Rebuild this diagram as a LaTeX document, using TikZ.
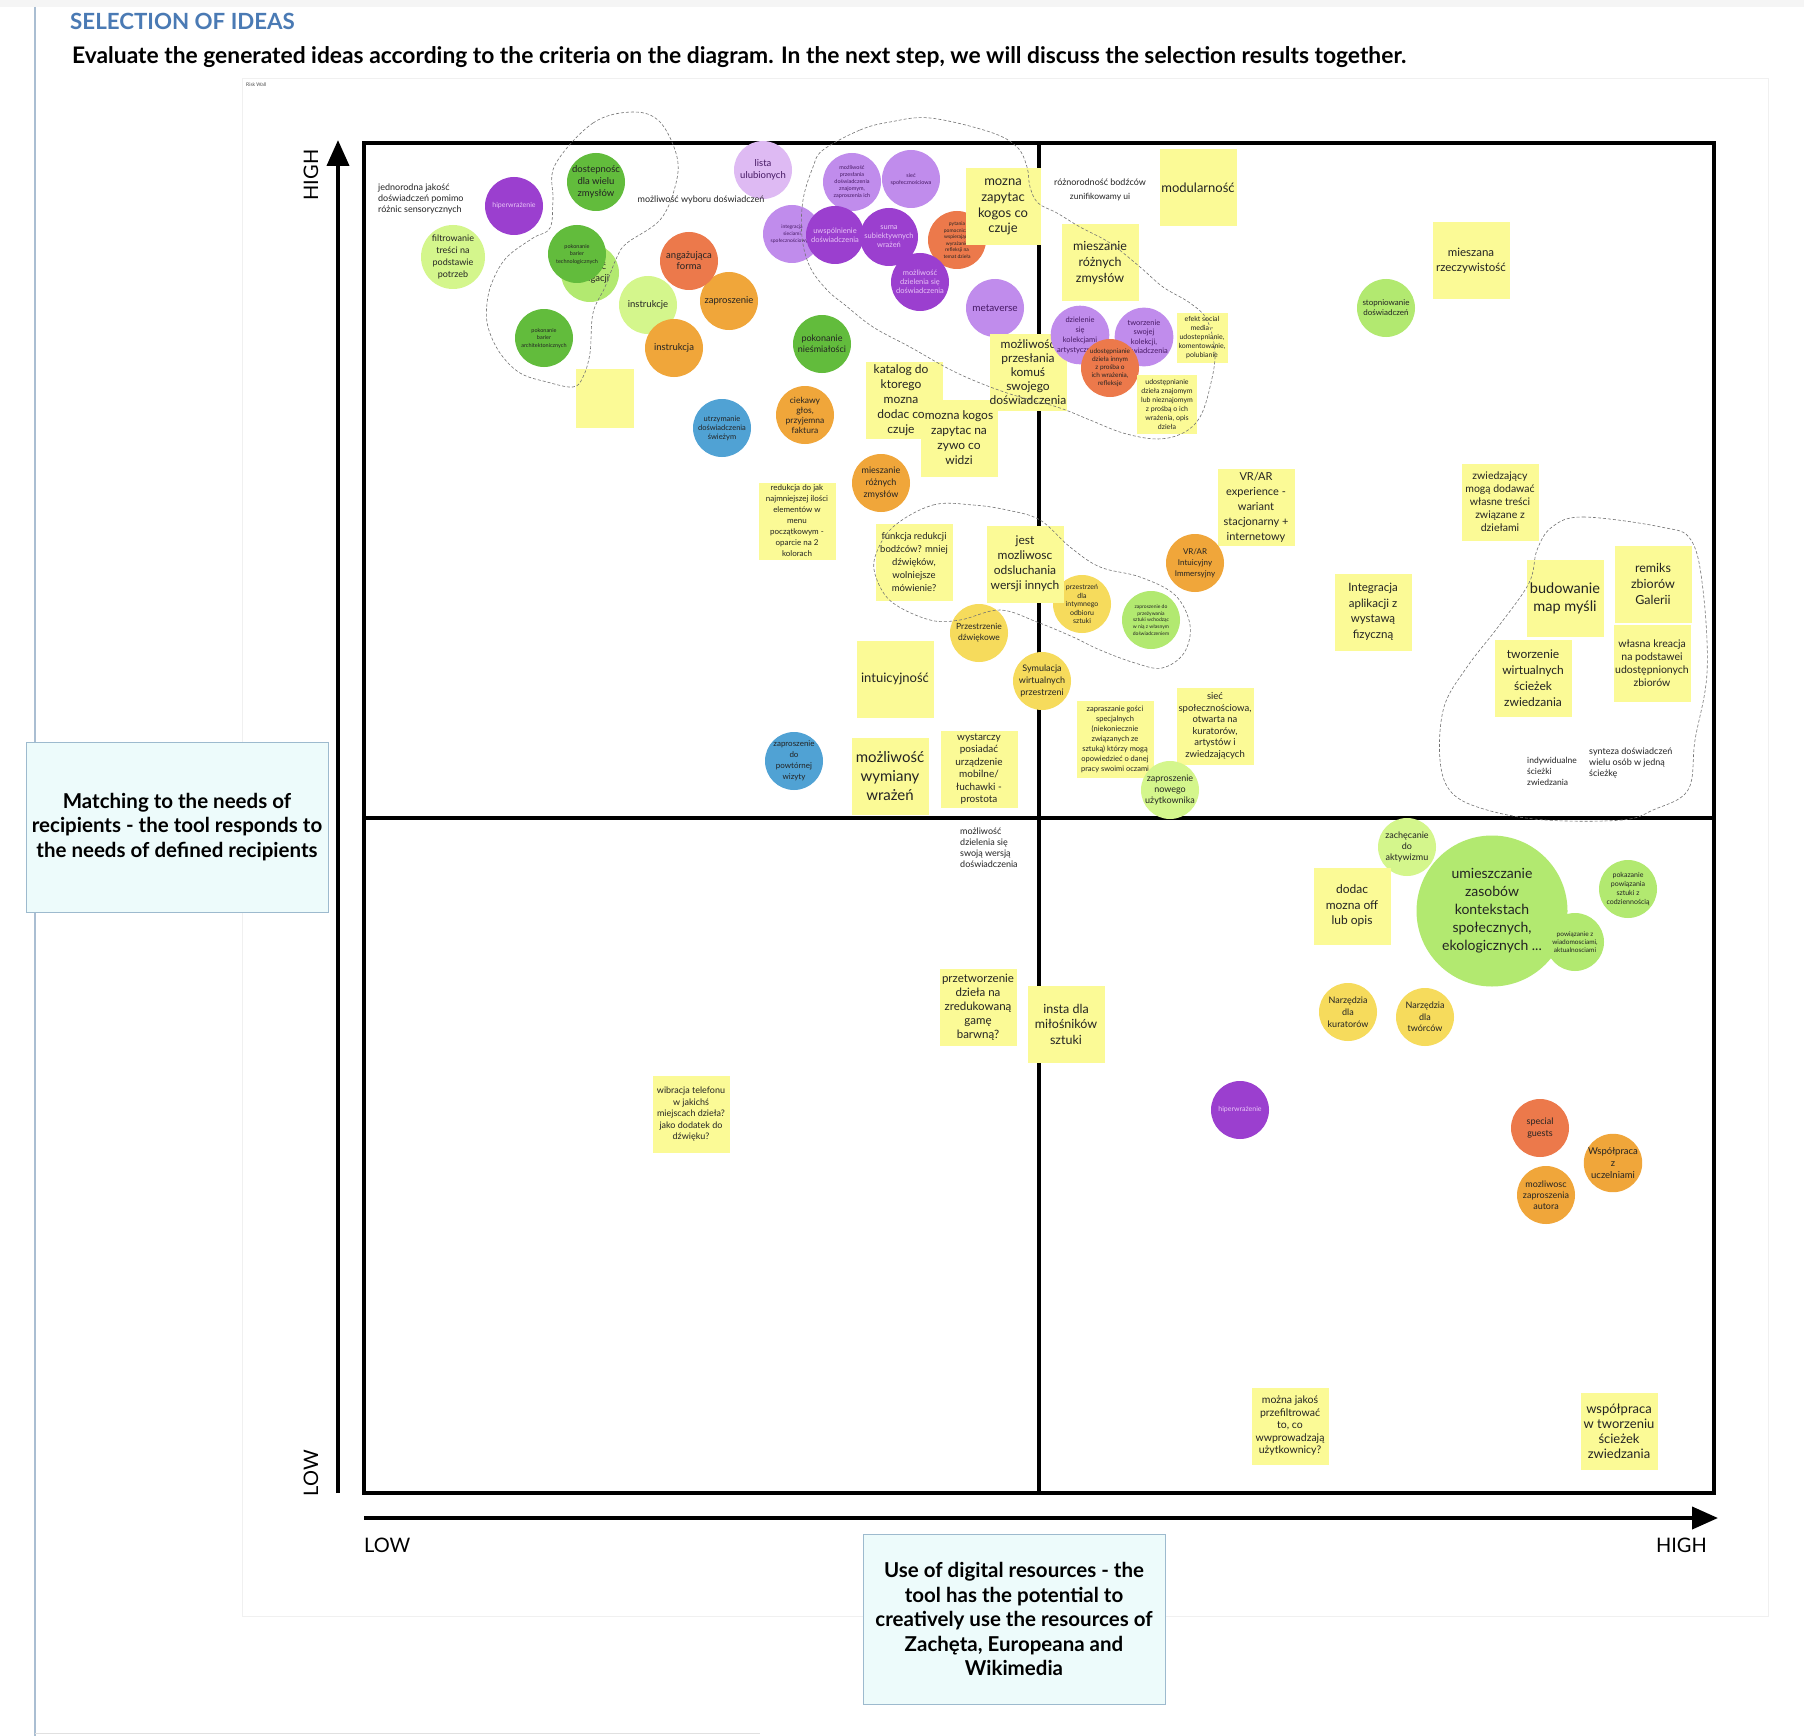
\documentclass[tikz,border=0pt]{standalone}
\usepackage{fontspec}
\setmainfont{Lato}
\usetikzlibrary{arrows.meta, positioning}
\definecolor{stickyyel}{RGB}{251,250,150}
\definecolor{ideadpurple}{RGB}{155,63,207}
\definecolor{ideampurple}{RGB}{192,140,236}
\definecolor{idealpurple}{RGB}{222,186,243}
\definecolor{ideagreen}{RGB}{98,188,60}
\definecolor{idealime}{RGB}{212,246,140}
\definecolor{ideamint}{RGB}{178,233,112}
\definecolor{ideaorange}{RGB}{240,166,58}
\definecolor{ideacoral}{RGB}{236,121,75}
\definecolor{ideablue}{RGB}{80,162,212}
\definecolor{ideayellow}{RGB}{246,219,92}
\definecolor{ideapink}{RGB}{232,196,247}
\definecolor{ideadeep}{RGB}{70,25,100}
\definecolor{inkdark}{RGB}{35,35,35}
\definecolor{titleblue}{RGB}{74,122,180}
\definecolor{critfill}{RGB}{237,251,251}
\definecolor{critedge}{RGB}{157,186,206}
\definecolor{sideline}{RGB}{170,190,210}
\newcommand{\fsz}[2]{\fontsize{#1}{#2}\selectfont}
\tikzset{
    sticky/.style={rectangle, fill=stickyyel, minimum width=77, minimum height=77,
                   inner sep=0pt, align=center, text=inkdark},
    idea/.style={circle, minimum size=58, inner sep=0pt, align=center, text=inkdark},
    dpur/.style={idea, fill=ideadpurple, text=ideapink},
    mpur/.style={idea, fill=ideampurple, text=ideadeep},
    lpur/.style={idea, fill=idealpurple, text=ideadeep},
    grn/.style={idea, fill=ideagreen},
    lgrn/.style={idea, fill=idealime},
    mgrn/.style={idea, fill=ideamint},
    org/.style={idea, fill=ideaorange},
    coral/.style={idea, fill=ideacoral},
    blu/.style={idea, fill=ideablue},
    ylw/.style={idea, fill=ideayellow},
    note/.style={align=left, text=inkdark, inner sep=0pt},
    blob/.style={draw=black!55, densely dashed, line width=0.6pt},
    axis/.style={line width=4pt, -{Triangle[length=26pt, width=22pt]}},
    crit/.style={draw=critedge, fill=critfill, line width=1pt, align=center,
                 minimum width=302, minimum height=170, inner sep=0pt},
    axlbl/.style={font=\fsz{20}{24}, inner sep=0pt},
}

\begin{document}
\begin{tikzpicture}[x=1pt, y=-1pt]
    \useasboundingbox (0,0) rectangle (1804,1736);
    \fill[white] (0,0) rectangle (1804,1736);
    \fill[black!4] (0,0) rectangle (1804,7);
    \draw[sideline, line width=1.5pt] (35,7) -- (35,1736);
    \draw[black!12, line width=1pt] (35,1733) -- (760,1733);
    \draw[black!6, line width=0.8pt] (242,78) rectangle (1768,1616);
    \node[anchor=west, font=\fsz{5}{6}, text=black!70, inner sep=0pt] (wall) at (246,85) {Risk Wall};

    % header
    \node[anchor=west, text=titleblue, font=\fsz{22.3}{26}\bfseries, inner sep=0pt] (title) at (70,21) {SELECTION OF IDEAS};
    \node[anchor=west, font=\fsz{22.8}{26}\bfseries, inner sep=0pt] (task) at (72,57)
        {Evaluate the generated ideas according to the criteria on the diagram. In the next step, we will discuss the selection results together.};

    % grid and axes
    \node[draw, line width=4pt, minimum width=1350, minimum height=1350, inner sep=0pt] (grid) at (1039,818) {};
    \draw[line width=3.5pt] (grid.north) -- (grid.south);
    \draw[line width=3.5pt] (grid.west) -- (grid.east);
    \coordinate (ybot) at (338,1493);
    \coordinate (ytop) at (338,140);
    \coordinate (xleft) at (364,1518);
    \coordinate (xright) at (1718,1518);
    \draw[axis] (ybot) -- (ytop);
    \draw[axis] (xleft) -- (xright);
    \node[axlbl, rotate=90] (yhigh) at (311,175) {HIGH};
    \node[axlbl, rotate=90] (ylow) at (311,1473) {LOW};
    \node[axlbl, anchor=west] (xlow) at (364,1545) {LOW};
    \node[axlbl, anchor=east] (xhigh) at (1707,1545) {HIGH};

    % criteria
    \node[crit, font=\fsz{20.5}{24.7}\bfseries] (critneeds) at (177,827)
        {Matching to the needs of\\recipients - the tool responds to\\the needs of defined recipients};
    \node[crit, font=\fsz{20.5}{24.5}\bfseries] (critdigital) at (1014,1619)
        {Use of digital resources - the\\tool has the potential to\\creatively use the resources of\\Zachęta, Europeana and\\Wikimedia};

    % top left quadrant
    \node[note, anchor=west, font=\fsz{9}{11}] (jednorodna) at (378,199) {jednorodna jakość\\doświadczeń pomimo\\różnic sensorycznych};
    \node[dpur, font=\fsz{7}{9}] (hiper) at (514,206) {hiperwrażenie};
    \node[grn, font=\fsz{9.5}{12}] (dostep) at (596,182) {dostepnośc\\dla wielu\\zmysłów};
    \node[lgrn, minimum size=64, font=\fsz{9}{12}] (filtr) at (453,257) {filtrowanie\\treści na\\podstawie\\potrzeb};
    \node[mgrn, font=\fsz{9.5}{12}] (nawig) at (590,273) {łatwość\\nawigacji};
    \node[grn, font=\fsz{5.5}{7.5}] (poktech) at (577,254) {pokonanie\\barier\\technologicznych};
    \node[grn, font=\fsz{5.5}{7.5}] (pokarch) at (544,338) {pokonanie\\barier\\architektonicznych};
    \node[sticky, minimum width=58, minimum height=59] (blank) at (605,398) {};
    \node[org, font=\fsz{9.5}{11}] (zapr) at (729,301) {zaproszenie};
    \node[coral, font=\fsz{9.5}{11}] (angaz) at (689,261) {angażująca\\forma};
    \node[lgrn, font=\fsz{9.5}{11}] (instrukcje) at (648,305) {instrukcje};
    \node[org, font=\fsz{9.5}{11}] (instrukcja) at (674,348) {instrukcja};
    \node[lpur, font=\fsz{9.5}{12}] (lista) at (763,170) {lista\\ulubionych};
    \node[note, font=\fsz{9}{11}] (wybor) at (701,200) {możliwość wyboru doświadczeń};
    \node[mpur, font=\fsz{5}{7}] (integr) at (792,234) {integracja\\sieciami\\społecznościowymi};
    \node[mpur, font=\fsz{5.5}{7}] (przesl) at (852,182) {możliwość\\przesłania\\doświadczenia\\znajomym,\\zaproszenia ich};
    \node[mpur, font=\fsz{5.5}{7}] (siec) at (911,179) {sieć\\społecznościowa};
    \node[dpur, font=\fsz{7.5}{9}] (uwsp) at (835,235) {uwspólnienie\\doświadczenia};
    \node[coral, font=\fsz{5}{6.5}] (pytania) at (957,240) {pytania\\pomocnicze\\wspierające\\wyrażanie\\refleksji na\\temat dzieła};
    \node[dpur, font=\fsz{7.5}{9}] (suma) at (889,237) {suma\\subiektywnych\\wrażeń};
    \node[dpur, font=\fsz{7.5}{9}] (dzielsie) at (920,282) {możliwość\\dzielenia się\\doświadczenia};
    \node[mpur, font=\fsz{10}{12}] (meta) at (995,308) {metaverse};
    \node[grn, font=\fsz{9}{11}] (niesmial) at (822,344) {pokonanie\\nieśmiałości};
    \node[blu, font=\fsz{7.5}{9}] (utrzym) at (722,428) {utrzymanie\\doświadczenia\\świeżym};
    \node[org, font=\fsz{8.5}{10}] (ciekawy) at (805,415) {ciekawy\\głos,\\przyjemna\\faktura};
    \node[sticky, minimum width=75, font=\fsz{13}{15.7}] (zapytac) at (1003,207) {mozna\\zapytac\\kogos co\\czuje};
    \node[sticky] (katalog) at (904,400) {};
    \node[sticky, font=\fsz{12}{15}] (nazywo) at (959,438) {mozna kogos\\zapytac na\\zywo co\\widzi};
    \node[align=center, inner sep=0pt, text=inkdark, font=\fsz{12}{15}, xshift=-3pt] (katalogtxt) at (katalog) {katalog do\\ktorego\\mozna\\dodac co\\czuje};
    \node[sticky, font=\fsz{12}{14}] (komus) at (1028,372) {możliwość\\przesłania\\komuś\\swojego\\\makebox[77pt]{doświadczenia}};
    \node[org, font=\fsz{9}{12}] (mieszorg) at (881,483) {mieszanie\\różnych\\zmysłów};
    \node[sticky, font=\fsz{8}{11}] (redukcja) at (797,521) {redukcja do jak\\najmniejszej ilości\\elementów w\\menu\\początkowym -\\oparcie na 2\\kolorach};
    \node[sticky, font=\fsz{9.5}{13}] (funkcja) at (914,562) {funkcja redukcji\\bodźców? mniej\\dźwięków,\\wolniejsze\\mówienie?};
    \node[ylw, font=\fsz{7}{8.5}] (intymny) at (1082,604) {przestrzeń\\dla\\intymnego\\odbioru\\sztuki};
    \node[sticky, font=\fsz{12}{15}] (jest) at (1025,564) {jest\\mozliwosc\\odsluchania\\wersji innych};
    \node[ylw, font=\fsz{8.5}{11}] (dzwiek) at (979,633) {Przestrzenie\\dźwiękowe};
    \node[ylw, font=\fsz{9}{12}] (symul) at (1042,681) {Symulacja\\wirtualnych\\przestrzeni};
    \node[sticky, font=\fsz{13}{16}] (intuic) at (895,679) {intuicyjność};
    \node[blu, font=\fsz{8}{11}] (powtorna) at (794,761) {zaproszenie\\do\\powtórnej\\wizyty};
    \node[sticky, font=\fsz{15}{19}] (wymiany) at (890,776) {możliwość\\wymiany\\wrażeń};
    \node[sticky, font=\fsz{10}{12.5}] (wystarczy) at (979,769) {wystarczy\\posiadać\\urządzenie\\mobilne/\\łuchawki -\\prostota};

    % top right quadrant
    \node[note, font=\fsz{9}{11}] (roznor) at (1100,182) {różnorodność bodźców};
    \node[note, font=\fsz{8.5}{11}, below=7pt of roznor] (unif) {zunifikowamy ui};
    \node[sticky, font=\fsz{13}{16}] (modul) at (1198,188) {modularność};
    \node[sticky, font=\fsz{12.5}{16}] (mieszst) at (1100,263) {mieszanie\\różnych\\zmysłów};
    \node[mpur, font=\fsz{7.5}{10}] (kolekcje) at (1080,335) {dzielenie\\się\\kolekcjami\\artystycznymi};
    \node[mpur, font=\fsz{7.5}{9.5}] (swoja) at (1144,337) {tworzenie\\swojej\\kolekcji,\\doświadczenia};
    \node[coral, font=\fsz{6.5}{8}] (innym) at (1110,368) {udostępnianie\\dzieła innym\\z prośba o\\ich wrażenia,\\refleksje};
    \node[sticky, minimum width=51, minimum height=50, font=\fsz{7}{9}] (efekt) at (1202,338) {efekt social\\media -\\udostepnianie,\\komentowanie,\\polubianie};
    \node[sticky, minimum width=60, minimum height=59, font=\fsz{7}{9}] (znajomym) at (1167,404) {udostępnianie\\dzieła znajomym\\lub nieznajomym\\z prośbą o ich\\wrażenia, opis\\dzieła};
    \node[mgrn, font=\fsz{8}{10}] (stopn) at (1386,308) {stopniowanie\\doświadczeń};
    \node[sticky, font=\fsz{11.5}{15}] (mieszana) at (1471,261) {mieszana\\rzeczywistość};
    \node[sticky, font=\fsz{11}{15}] (vrar) at (1256,507) {VR/AR\\experience -\\wariant\\stacjonarny +\\internetowy};
    \node[org, font=\fsz{8}{11}] (vrarorg) at (1195,563) {VR/AR\\Intuicyjny\\Immersyjny};
    \node[mgrn, font=\fsz{5}{6.7}] (przezyw) at (1151,620) {zaproszenie do\\przeżywania\\sztuki wchodząc\\w nią z własnym\\doświadczeniem};
    \node[sticky, font=\fsz{11.5}{15.5}] (integracja) at (1373,612) {Integracja\\aplikacji z\\wystawą\\fizyczną};
    \node[sticky, font=\fsz{10.5}{13}] (zwiedz) at (1500,502) {zwiedzający\\mogą dodawać\\własne treści\\związane z\\dziełami};
    \node[sticky, font=\fsz{14.5}{18}] (mapy) at (1565,598) {budowanie\\map myśli};
    \node[sticky, font=\fsz{12.5}{16}] (remiks) at (1653,584) {remiks\\zbiorów\\Galerii};
    \node[sticky, font=\fsz{10.5}{13}] (kreacja) at (1652,663) {własna kreacja\\na podstawei\\udostępnionych\\zbiorów};
    \node[sticky, font=\fsz{12}{16}] (sciezki) at (1533,678) {tworzenie\\wirtualnych\\ścieżek\\zwiedzania};
    \node[note, anchor=west, font=\fsz{8.5}{11}] (indyw) at (1527,771) {indywidualne\\ścieżki\\zwiedzania};
    \node[note, anchor=west, font=\fsz{9}{11}] (synteza) at (1589,763) {synteza doświadczeń\\wielu osób w jedną\\ścieżkę};
    \node[sticky, font=\fsz{9.5}{11.5}] (siecst) at (1215,726) {sieć\\społecznościowa,\\otwarta na\\kuratorów,\\artystów i\\zwiedzających};
    \node[sticky, font=\fsz{7.5}{10}] (goscie) at (1115,739) {zapraszanie gości\\specjalnych\\(niekoniecznie\\związanych ze\\sztuką) którzy mogą\\opowiedzieć o danej\\pracy swoimi oczami};
    \node[lgrn, font=\fsz{9}{11}] (nowego) at (1170,790) {zaproszenie\\nowego\\użytkownika};

    % bottom left quadrant
    \node[note, anchor=north west, font=\fsz{9}{11}] (swojawersja) at (960,828) {możliwość\\dzielenia się\\swoją wersją\\doświadczenia};
    \node[sticky, font=\fsz{11.5}{14}] (przetw) at (978,1007) {przetworzenie\\dzieła na\\zredukowaną\\gamę\\barwną?};
    \node[sticky, font=\fsz{12.5}{15.5}] (insta) at (1066,1024) {insta dla\\miłośników\\sztuki};
    \node[sticky, font=\fsz{9}{11.5}] (wibracja) at (691,1114) {wibracja telefonu\\w jakichś\\miejscach dzieła?\\jako dodatek do\\dźwięku?};

    % bottom right quadrant
    \node[mgrn, minimum size=151, font=\fsz{14}{18}] (umieszcz) at (1492,911) {umieszczanie\\zasobów\\kontekstach\\społecznych,\\ekologicznych ...};
    \node[lgrn, font=\fsz{9}{11}] (aktywizm) at (1407,847) {zachęcanie\\do\\aktywizmu};
    \node[mgrn, font=\fsz{6.5}{8}] (wiadom) at (1575,942) {powiązanie z\\wiadomosciami,\\aktualnosciami};
    \node[mgrn, font=\fsz{7}{9}] (codzien) at (1628,889) {pokazanie\\powiązania\\sztuki z\\codziennością};
    \node[sticky, font=\fsz{12}{15.5}] (dodac) at (1352,906) {dodac\\mozna off\\lub opis};
    \node[ylw, font=\fsz{9}{12}] (kuratorzy) at (1348,1012) {Narzędzia\\dla\\kuratorów};
    \node[ylw, font=\fsz{9}{11.5}] (tworcy) at (1425,1017) {Narzędzia\\dla\\twórców};
    \node[dpur, font=\fsz{7}{9}] (hiperdwa) at (1240,1110) {hiperwrażenie};
    \node[coral, font=\fsz{9}{12}] (guests) at (1540,1128) {special\\guests};
    \node[org, font=\fsz{9.5}{12}] (uczelnie) at (1613,1163) {Współpraca\\z\\uczelniami};
    \node[org, font=\fsz{9}{11}] (autor) at (1546,1195) {mozliwosc\\zaproszenia\\autora};
    \node[sticky, font=\fsz{10.5}{12.5}] (przefiltr) at (1290,1426) {można jakoś\\przefiltrować\\to, co\\wwprowadzają\\użytkownicy?};
    \node[sticky, font=\fsz{13}{15}] (wspolpraca) at (1619,1431) {współpraca\\w tworzeniu\\ścieżek\\zwiedzania};

    % cluster outlines
    \draw[blob] plot[smooth cycle, tension=0.6] coordinates {(555,165) (593,123) (633,112) (660,122) (677,157) (675,187) (660,220) (627,243) (617,257) (605,287) (593,313) (590,353) (583,377) (573,387) (547,382) (520,373) (500,353) (488,327) (487,303) (493,280) (507,257) (533,238) (550,228) (553,200)};
    \draw[blob] plot[smooth cycle, tension=0.6] coordinates {(823,150) (860,130) (890,122) (930,118) (990,132) (1017,147) (1027,167) (1030,187) (1038,203) (1057,213) (1080,227) (1110,243) (1140,267) (1163,287) (1190,303) (1207,320) (1215,353) (1210,387) (1200,417) (1183,433) (1157,439) (1123,433) (1090,420) (1057,407) (1007,393) (957,373) (910,347) (873,327) (845,305) (827,290) (810,267) (802,237) (803,200) (813,167)};
    \draw[blob] plot[smooth cycle, tension=0.6] coordinates {(893,527) (933,505) (973,505) (1007,510) (1040,520) (1070,547) (1100,567) (1140,577) (1175,595) (1190,625) (1184,653) (1162,668) (1135,663) (1100,650) (1073,637) (1037,622) (1000,610) (960,620) (930,620) (893,603) (877,580) (875,557)};
    \draw[blob] plot[smooth cycle, tension=0.6] coordinates {(1552,527) (1583,517) (1661,527) (1691,540) (1703,590) (1707,673) (1695,740) (1688,790) (1653,810) (1622,820) (1545,820) (1487,810) (1452,793) (1440,760) (1444,707) (1467,667) (1498,627) (1529,583) (1537,550)};
\end{tikzpicture}
\end{document}
